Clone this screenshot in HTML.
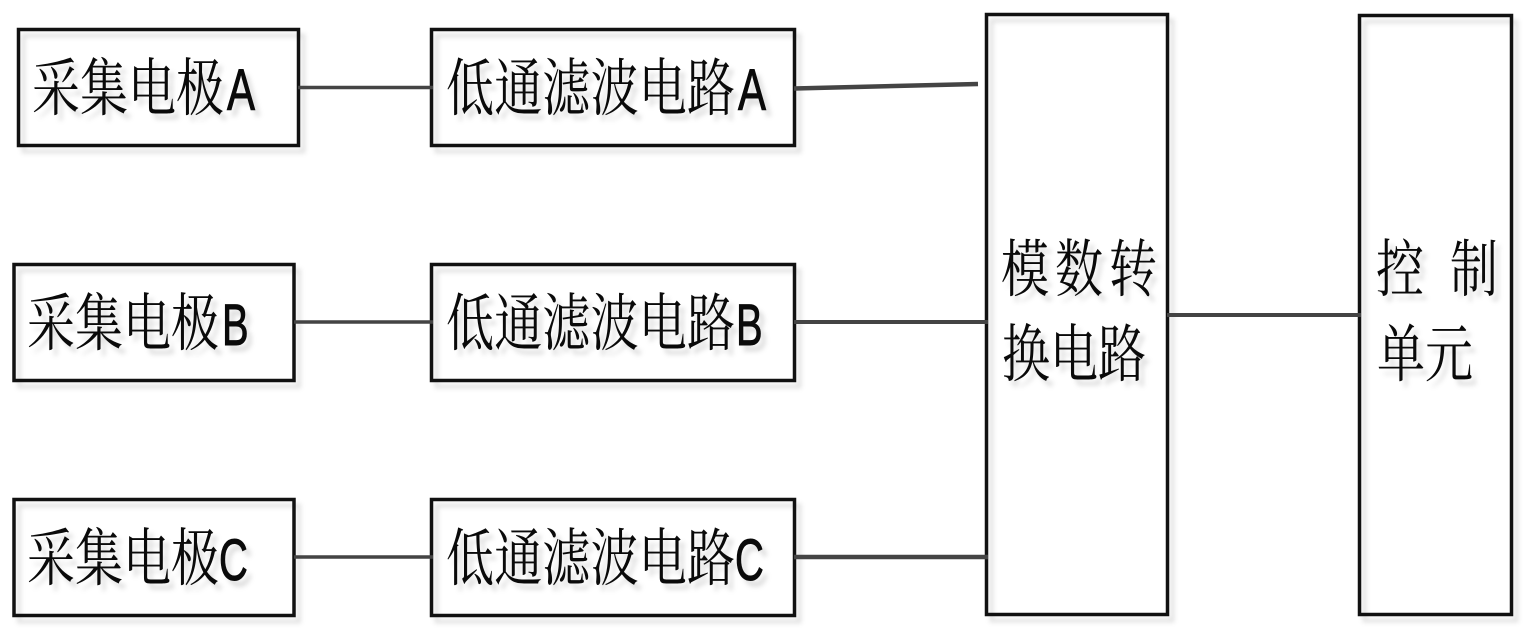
<!DOCTYPE html>
<html>
<head>
<meta charset="utf-8">
<style>
html,body{margin:0;padding:0;background:#fff;}
body{width:1529px;height:635px;overflow:hidden;position:relative;}
svg{position:absolute;left:0;top:0;}
.s{filter:drop-shadow(5px 6px 2.5px rgba(0,0,0,.13));}
.c{font-family:"Noto Serif CJK SC","Noto Serif CJK TC",serif;font-size:48px;fill:#0a0a0a;}
.l{font-family:"Liberation Sans",sans-serif;font-size:42px;font-weight:400;fill:#0a0a0a;stroke:#0a0a0a;stroke-width:.7;}
</style>
</head>
<body>
<svg width="1529" height="635" viewBox="0 0 1529 635">
<g class="s">
<g fill="none" stroke="#111" stroke-width="3.5">
<rect x="18.5" y="29.5" width="280" height="116"/>
<rect x="431.5" y="29.5" width="363" height="116"/>
<rect x="14" y="264.5" width="280" height="116"/>
<rect x="431.5" y="264.5" width="363" height="116"/>
<rect x="14" y="499.5" width="280" height="116"/>
<rect x="431.5" y="499.5" width="363" height="116"/>
<rect x="986.5" y="14.5" width="181" height="600"/>
<rect x="1359.5" y="15.5" width="152" height="599"/>
</g>
<g class="c">
<text transform="translate(32,110) scale(1,1.3)">采集电极</text>
<text transform="translate(446,110) scale(1,1.3)" letter-spacing="0.2">低通滤波电路</text>
<text transform="translate(27,345) scale(1,1.3)">采集电极</text>
<text transform="translate(446,345) scale(1,1.3)" letter-spacing="0.2">低通滤波电路</text>
<text transform="translate(27,580) scale(1,1.3)">采集电极</text>
<text transform="translate(446,580) scale(1,1.3)" letter-spacing="0.2">低通滤波电路</text>
<text transform="translate(1001,291) scale(1,1.3)">模</text>
<text transform="translate(1055,291) scale(1,1.3)">数</text>
<text transform="translate(1109,291) scale(1,1.3)">转</text>
<text transform="translate(1002,376) scale(1,1.3)">换</text>
<text transform="translate(1050,376) scale(1,1.3)">电</text>
<text transform="translate(1098,376) scale(1,1.3)">路</text>
<text transform="translate(1376,291) scale(1,1.3)">控</text>
<text transform="translate(1450,291) scale(1,1.3)">制</text>
<text transform="translate(1377,376) scale(1,1.3)">单</text>
<text transform="translate(1425,376) scale(1,1.3)">元</text>
</g>
<g class="l">
<text transform="translate(227,110) scale(1,1.4)">A</text>
<text transform="translate(738,110) scale(1,1.4)">A</text>
<text transform="translate(222,345) scale(.95,1.4)">B</text>
<text transform="translate(736,345) scale(.95,1.4)">B</text>
<text transform="translate(219,580) scale(.95,1.4)">C</text>
<text transform="translate(735,580) scale(.95,1.4)">C</text>
</g>
</g>
<g stroke="#444" fill="none">
<line x1="298" y1="87.5" x2="433" y2="87.5" stroke-width="3.5"/>
<line x1="794" y1="88.5" x2="978" y2="84" stroke-width="4.5"/>
<line x1="294" y1="322" x2="433" y2="322" stroke-width="3.5"/>
<line x1="794" y1="322" x2="988" y2="322" stroke-width="4"/>
<line x1="294" y1="557" x2="433" y2="557" stroke-width="3.5"/>
<line x1="794" y1="557" x2="988" y2="557" stroke-width="4.5"/>
<line x1="1167" y1="315" x2="1361" y2="315" stroke-width="4"/>
</g>
</svg>
</body>
</html>
